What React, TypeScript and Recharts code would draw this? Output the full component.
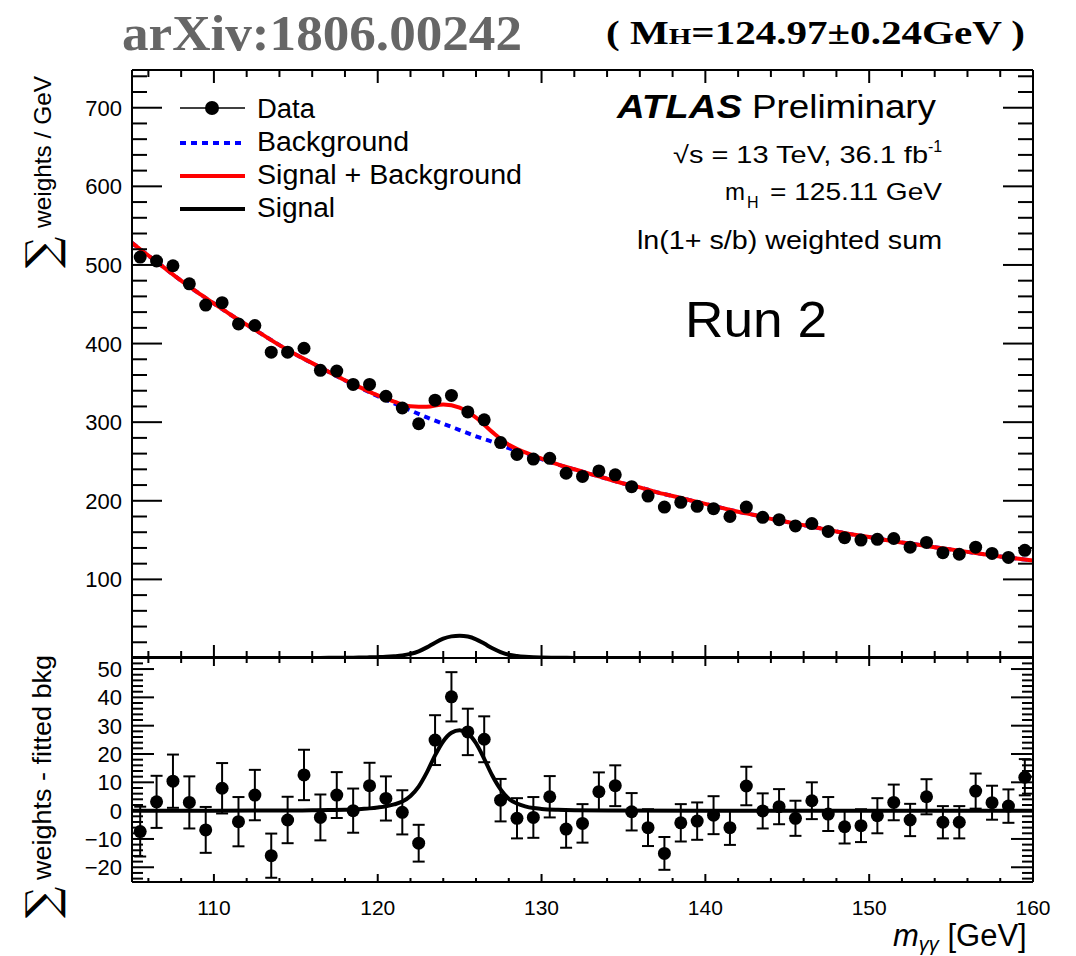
import React from 'react';
import { ComposedChart, Line, Scatter, XAxis, YAxis, ErrorBar } from 'recharts';

// ---- data ----
const massBins = [
  105.5, 106.5, 107.5, 108.5, 109.5, 110.5, 111.5, 112.5, 113.5, 114.5,
  115.5, 116.5, 117.5, 118.5, 119.5, 120.5, 121.5, 122.5, 123.5, 124.5,
  125.5, 126.5, 127.5, 128.5, 129.5, 130.5, 131.5, 132.5, 133.5, 134.5,
  135.5, 136.5, 137.5, 138.5, 139.5, 140.5, 141.5, 142.5, 143.5, 144.5,
  145.5, 146.5, 147.5, 148.5, 149.5, 150.5, 151.5, 152.5, 153.5, 154.5,
  155.5, 156.5, 157.5, 158.5, 159.5,
];
const dataWeights = [
  510, 505, 499, 476, 449, 452, 425, 423, 389, 389,
  394, 366, 365, 348, 348, 333, 318, 298, 328, 334,
  313, 303, 274, 259, 253, 254, 235, 231, 238, 233,
  218, 206, 192, 198, 193, 190, 180, 192, 179, 176,
  168, 171, 161, 153, 150, 151, 152, 141, 147, 134,
  132, 141, 133, 128, 137,
];
const residuals = [
  -7.4, 3.1, 10.4, 2.9, -6.8, 7.9, -3.9, 5.5, -15.9, -3.3,
  12.6, -2.4, 5.5, 0.0, 8.8, 4.3, -0.6, -11.5, 24.9, 40.2,
  27.8, 25.2, 3.7, -2.7, -2.4, 4.9, -6.5, -4.5, 6.7, 8.8,
  -0.4, -6.0, -15.1, -4.3, -3.7, -1.6, -6.0, 8.7, -0.1, 1.4,
  -2.7, 3.5, -1.2, -5.7, -5.3, -1.8, 2.9, -3.3, 4.9, -4.1,
  -4.1, 6.9, 2.8, 1.6, 11.8,
];
const residualErrors = [
  8.8, 9.2, 9.4, 9.2, 8.1, 8.9, 8.7, 8.9, 7.8, 8.2,
  8.9, 8.1, 8.1, 7.8, 8.1, 7.8, 7.8, 6.5, 8.8, 8.7,
  8.2, 8.1, 7.5, 7.1, 7.2, 7.3, 6.6, 6.8, 6.8, 7.2,
  6.6, 6.5, 5.8, 6.6, 6.6, 6.7, 6.1, 6.8, 6.2, 6.2,
  6.2, 6.5, 6.0, 5.9, 5.8, 6.2, 6.3, 5.7, 6.2, 5.7,
  5.7, 6.2, 6.0, 5.9, 6.4,
];
const bkgMass = [
  105, 106, 107, 108, 109, 110, 111, 112, 113, 114, 115, 116, 117, 118, 119,
  120, 121, 122, 123, 124, 125, 126, 127, 128, 129, 130, 131, 132, 133, 134,
  135, 136, 137, 138, 139, 140, 141, 142, 143, 144, 145, 146, 147, 148, 149,
  150, 151, 152, 153, 154, 155, 156, 157, 158, 159, 160,
];
const bkgValues = [
  528, 512, 496, 480, 465, 451, 437, 424, 411, 398, 386, 375, 364, 353, 343,
  333, 324, 315, 306, 298, 290, 282, 275, 267, 260, 253, 246, 240, 234, 228,
  222, 217, 211, 206, 201, 196, 191, 186, 182, 177, 173, 169, 165, 161, 157,
  154, 150, 147, 144, 141, 138, 135, 132, 129, 126.5, 124,
];
const sigMass = [
  105, 110, 115, 116, 117, 118, 118.5, 119, 119.5, 120, 120.5, 121, 121.5, 122,
  122.5, 123, 123.5, 124, 124.5, 125, 125.5, 126, 126.5, 127, 127.5, 128, 128.5,
  129, 129.5, 130, 131, 132, 134, 140, 150, 160,
];
const sigValues = [
  0, 0, 0.05, 0.1, 0.2, 0.3, 0.4, 0.6, 0.8, 1.1, 1.5, 2.2, 3.2, 5.2,
  8.5, 13.5, 19.5, 24.5, 27.5, 28.4, 27.3, 23.8, 18.3, 12.3, 7.5, 4.2, 2.5,
  1.5, 0.9, 0.6, 0.3, 0.15, 0.05, 0, 0, 0,
];
const xTicks = [106, 108, 110, 112, 114, 116, 118, 120, 122, 124, 126, 128, 130, 132, 134, 136, 138, 140, 142, 144, 146, 148, 150, 152, 154, 156, 158, 160];
const yTopTicks = [20, 40, 60, 80, 100, 120, 140, 160, 180, 200, 220, 240, 260, 280, 300, 320, 340, 360, 380, 400, 420, 440, 460, 480, 500, 520, 540, 560, 580, 600, 620, 640, 660, 680, 700, 720, 740];
const yBotTicks = [-24, -22, -20, -18, -16, -14, -12, -10, -8, -6, -4, -2, 0, 2, 4, 6, 8, 10, 12, 14, 16, 18, 20, 22, 24, 26, 28, 30, 32, 34, 36, 38, 40, 42, 44, 46, 48, 50, 52];

// ---- derived tables ----
const pointsTop = massBins.map((x, i) => ({ x, y: dataWeights[i] }));
const pointsBot = massBins.map((x, i) => ({ x, y: residuals[i], err: residualErrors[i] }));
const bkgLine = bkgMass.map((x, i) => ({ x, v: bkgValues[i] }));
const sigLine = sigMass.map((x, i) => ({ x, v: sigValues[i] }));
const sbLine = bkgMass.map((x, i) => {
  const j = sigMass.indexOf(x);
  return { x, v: bkgValues[i] + (j >= 0 ? sigValues[j] : 0) };
});

const FONT = '"Liberation Sans", Arial, Helvetica, sans-serif';
const SERIF = '"Liberation Serif", "Times New Roman", serif';
const SIGMA_FONT = '"DejaVu Serif", "Liberation Serif", serif';

const isMajor = (v: number, step: number) => Math.abs(v / step - Math.round(v / step)) < 1e-6;
const fmt = (v: number) => (v < 0 ? '\u2212' + Math.abs(v) : String(v));

type Cfg = {
  side: 'top' | 'bottom' | 'left' | 'right';
  major: number;
  majorLen: number;
  minorLen: number;
  label?: boolean;
  fontSize?: number;
};

function makeTick(cfg: Cfg) {
  return (props: any) => {
    const { x, y, payload } = props;
    const v = payload.value as number;
    const maj = isMajor(v, cfg.major);
    const len = maj ? cfg.majorLen : cfg.minorLen;
    let x2 = x;
    let y2 = y;
    if (cfg.side === 'bottom') y2 = y - len;
    if (cfg.side === 'top') y2 = y + len;
    if (cfg.side === 'left') x2 = x + len;
    if (cfg.side === 'right') x2 = x - len;
    let label = null;
    if (cfg.label && maj) {
      if (cfg.side === 'bottom') {
        label = (
          <text x={x} y={y + 33} textAnchor="middle" fontSize={cfg.fontSize || 21} fontFamily={FONT} fill="#000">
            {fmt(v)}
          </text>
        );
      } else if (cfg.side === 'left') {
        label = (
          <text x={x - 10} y={y + 8} textAnchor="end" fontSize={cfg.fontSize || 22} fontFamily={FONT} fill="#000">
            {fmt(v)}
          </text>
        );
      }
    }
    return (
      <g>
        <line x1={x} y1={y} x2={x2} y2={y2} stroke="#000" strokeWidth={2} />
        {label}
      </g>
    );
  };
}

const axisLine = { stroke: '#000', strokeWidth: 2 };

const TopChart = () => (
  <ComposedChart width={1076} height={700} margin={{ top: 60, right: 33, bottom: 32, left: 72 }}>
    <XAxis xAxisId="b" dataKey="x" type="number" domain={[105, 160]} ticks={xTicks} interval={0}
      orientation="bottom" height={10} tickSize={0} tickMargin={0} axisLine={axisLine} tickLine={false}
      allowDataOverflow tick={makeTick({ side: 'bottom', major: 10, majorLen: 13, minorLen: 7 })} />
    <XAxis xAxisId="t" dataKey="x" type="number" domain={[105, 160]} ticks={xTicks} interval={0}
      orientation="top" height={10} tickSize={0} tickMargin={0} axisLine={axisLine} tickLine={false}
      allowDataOverflow tick={makeTick({ side: 'top', major: 10, majorLen: 13, minorLen: 7 })} />
    <YAxis yAxisId="l" type="number" domain={[0, 748]} ticks={yTopTicks} interval={0}
      orientation="left" width={60} tickSize={0} tickMargin={0} axisLine={axisLine} tickLine={false}
      allowDataOverflow tick={makeTick({ side: 'left', major: 100, majorLen: 30, minorLen: 15, label: true, fontSize: 22 })} />
    <YAxis yAxisId="r" type="number" domain={[0, 748]} ticks={yTopTicks} interval={0}
      orientation="right" width={10} tickSize={0} tickMargin={0} axisLine={axisLine} tickLine={false}
      allowDataOverflow tick={makeTick({ side: 'right', major: 100, majorLen: 30, minorLen: 15 })} />
    <Scatter xAxisId="b" yAxisId="l" data={pointsTop} dataKey="y" isAnimationActive={false}
      shape={(p: any) => <circle cx={p.cx} cy={p.cy} r={6.5} fill="#000" />} />
    <Line xAxisId="b" yAxisId="l" data={bkgLine} dataKey="v" type="monotone" stroke="#0000ff" strokeWidth={4}
      strokeDasharray="6 5" dot={false} activeDot={false} isAnimationActive={false} />
    <Line xAxisId="b" yAxisId="l" data={sbLine} dataKey="v" type="monotone" stroke="#ff0000" strokeWidth={4}
      dot={false} activeDot={false} isAnimationActive={false} />
    <Line xAxisId="b" yAxisId="l" data={sigLine} dataKey="v" type="monotone" stroke="#000" strokeWidth={4}
      dot={false} activeDot={false} isAnimationActive={false} />
  </ComposedChart>
);

const BottomChart = () => (
  <ComposedChart width={1076} height={356} margin={{ top: 48, right: 33, bottom: 64, left: 72 }}>
    <XAxis xAxisId="b" dataKey="x" type="number" domain={[105, 160]} ticks={xTicks} interval={0}
      orientation="bottom" height={10} tickSize={0} tickMargin={0} axisLine={axisLine} tickLine={false}
      allowDataOverflow tick={makeTick({ side: 'bottom', major: 10, majorLen: 8, minorLen: 4, label: true, fontSize: 21 })} />
    <XAxis xAxisId="t" dataKey="x" type="number" domain={[105, 160]} ticks={xTicks} interval={0}
      orientation="top" height={10} tickSize={0} tickMargin={0} axisLine={axisLine} tickLine={false}
      allowDataOverflow tick={makeTick({ side: 'top', major: 10, majorLen: 8, minorLen: 5 })} />
    <YAxis yAxisId="l" type="number" domain={[-25.2, 53.9]} ticks={yBotTicks} interval={0}
      orientation="left" width={60} tickSize={0} tickMargin={0} axisLine={axisLine} tickLine={false}
      allowDataOverflow tick={makeTick({ side: 'left', major: 10, majorLen: 22, minorLen: 11, label: true, fontSize: 22 })} />
    <YAxis yAxisId="r" type="number" domain={[-25.2, 53.9]} ticks={yBotTicks} interval={0}
      orientation="right" width={10} tickSize={0} tickMargin={0} axisLine={axisLine} tickLine={false}
      allowDataOverflow tick={makeTick({ side: 'right', major: 10, majorLen: 22, minorLen: 11 })} />
    <Line xAxisId="b" yAxisId="l" data={sigLine} dataKey="v" type="monotone" stroke="#000" strokeWidth={4}
      dot={false} activeDot={false} isAnimationActive={false} />
    <Scatter xAxisId="b" yAxisId="l" data={pointsBot} dataKey="y" isAnimationActive={false}
      shape={(p: any) => <circle cx={p.cx} cy={p.cy} r={6.5} fill="#000" />}>
      <ErrorBar dataKey="err" direction="y" width={6} stroke="#000" strokeWidth={2} isAnimationActive={false} />
    </Scatter>
  </ComposedChart>
);

const Overlay = () => (
  <svg width={1076} height={956} style={{ position: 'absolute', left: 0, top: 0, pointerEvents: 'none' }}>
    {/* header */}
    <text x={122} y={50} fontFamily={SERIF} fontWeight="bold" fontSize={50} fill="#666666"
      textLength={400} lengthAdjust="spacingAndGlyphs">arXiv:1806.00242</text>
    <text x={606} y={44} fontFamily={SERIF} fontWeight="bold" fontSize={34} fill="#000"
      textLength={419} lengthAdjust="spacingAndGlyphs">( M<tspan fontSize={24}>H</tspan>=124.97±0.24GeV )</text>

    {/* legend */}
    <line x1={180} y1={108} x2={245} y2={108} stroke="#000" strokeWidth={1.5} />
    <circle cx={212} cy={108} r={7} fill="#000" />
    <text x={257} y={118} fontFamily={FONT} fontSize={27} textLength={58} lengthAdjust="spacingAndGlyphs">Data</text>
    <line x1={180} y1={143} x2={245} y2={143} stroke="#0000ff" strokeWidth={4} strokeDasharray="6 5" />
    <text x={257} y={151} fontFamily={FONT} fontSize={27} textLength={152} lengthAdjust="spacingAndGlyphs">Background</text>
    <line x1={180} y1={176} x2={245} y2={176} stroke="#ff0000" strokeWidth={4} />
    <text x={257} y={184} fontFamily={FONT} fontSize={27} textLength={265} lengthAdjust="spacingAndGlyphs">Signal + Background</text>
    <line x1={180} y1={209} x2={245} y2={209} stroke="#000" strokeWidth={4} />
    <text x={257} y={217} fontFamily={FONT} fontSize={27} textLength={78} lengthAdjust="spacingAndGlyphs">Signal</text>

    {/* ATLAS labels */}
    <text x={617} y={118} fontFamily={FONT} fontSize={33} fontWeight="bold" fontStyle="italic"
      textLength={125} lengthAdjust="spacingAndGlyphs">ATLAS</text>
    <text x={752} y={118} fontFamily={FONT} fontSize={33} textLength={184} lengthAdjust="spacingAndGlyphs">Preliminary</text>
    <text x={673} y={163} fontFamily={FONT} fontSize={24} textLength={255} lengthAdjust="spacingAndGlyphs">√s = 13 TeV, 36.1 fb</text>
    <text x={928} y={152} fontFamily={FONT} fontSize={16}>-1</text>
    <text x={725} y={200} fontFamily={FONT} fontSize={24}>m</text>
    <text x={747} y={208} fontFamily={FONT} fontSize={16}>H</text>
    <text x={770} y={200} fontFamily={FONT} fontSize={24} textLength={172} lengthAdjust="spacingAndGlyphs">= 125.11 GeV</text>
    <text x={637} y={249} fontFamily={FONT} fontSize={26} textLength={305} lengthAdjust="spacingAndGlyphs">ln(1+ s/b) weighted sum</text>
    <text x={685} y={337} fontFamily={FONT} fontSize={50} textLength={142} lengthAdjust="spacingAndGlyphs">Run 2</text>

    {/* axis titles */}
    <text transform="translate(57, 268) rotate(-90)" fontFamily={SIGMA_FONT} fontSize={44}>∑</text>
    <text transform="translate(51, 228) rotate(-90)" fontFamily={FONT} fontSize={24}
      textLength={152} lengthAdjust="spacingAndGlyphs">weights / GeV</text>
    <text transform="translate(57, 918) rotate(-90)" fontFamily={SIGMA_FONT} fontSize={44}>∑</text>
    <text transform="translate(51, 880) rotate(-90)" fontFamily={FONT} fontSize={25}
      textLength={225} lengthAdjust="spacingAndGlyphs">weights - fitted bkg</text>
    <text x={893} y={946} fontFamily={FONT} fontSize={31}>
      <tspan fontStyle="italic">m</tspan>
      <tspan fontStyle="italic" fontSize={20} dy={5}>γγ</tspan>
      <tspan dy={-5}> [GeV]</tspan>
    </text>
  </svg>
);

export default function App() {
  return (
    <div style={{ position: 'absolute', left: 0, top: 0, width: 1076, height: 956, background: '#fff', fontFamily: FONT }}>
      <div style={{ position: 'absolute', left: 0, top: 0 }}>
        <TopChart />
      </div>
      <div style={{ position: 'absolute', left: 0, top: 600 }}>
        <BottomChart />
      </div>
      <Overlay />
    </div>
  );
}
